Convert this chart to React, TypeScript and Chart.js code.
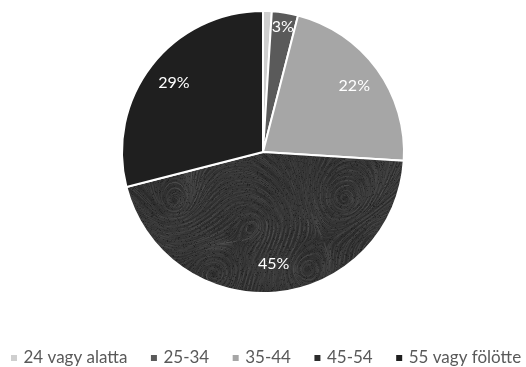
import React, { useEffect, useRef } from "react";
import { Chart, registerables } from "chart.js";

Chart.register(...registerables);

// Age groups and their share of respondents (%)
const ageGroups = ["24 vagy alatta", "25-34", "35-44", "45-54", "55 vagy fölötte"];
const shares = [1, 3, 22, 45, 29];
const sliceColors = ["#cfcfcf", "#5a5a5a", "#a6a6a6", "TEXTURE", "#1f1f1f"];
const labelledMin = 2; // slices below this share carry no percentage label

const FONT = 'Lato, "Open Sans", "DejaVu Sans", sans-serif';
const W = 526;
const H = 367;

// Dark swirled fill used for the 45-54 slice: streamlines traced through a few vortices
function makeSwirlPattern(ctx: CanvasRenderingContext2D): CanvasPattern | string {
  const c = document.createElement("canvas");
  c.width = W;
  c.height = H;
  const g = c.getContext("2d");
  if (!g) return "#303030";
  g.fillStyle = "#2c2c2c";
  g.fillRect(0, 0, W, H);

  const vortices = [
    [175, 205, 1],
    [255, 225, -1],
    [345, 200, 1],
    [215, 275, -1],
    [305, 270, 1],
    [140, 255, -1],
    [380, 250, -1],
  ];
  const field = (x: number, y: number) => {
    let vx = 0;
    let vy = 0;
    for (const [cx, cy, s] of vortices) {
      const dx = x - cx;
      const dy = y - cy;
      const d2 = dx * dx + dy * dy + 150;
      vx += (s * -dy) / d2;
      vy += (s * dx) / d2;
    }
    const m = Math.hypot(vx, vy) || 1;
    return [vx / m, vy / m];
  };

  g.lineWidth = 0.8;
  let n = 0;
  for (let sy = 140; sy < 300; sy += 3) {
    for (let sx = 110; sx < 420; sx += 3) {
      n++;
      const jx = ((n * 37) % 7) - 3;
      const jy = ((n * 53) % 7) - 3;
      let x = sx + jx * 0.5;
      let y = sy + jy * 0.5;
      const shade = 85 + ((n * 29) % 60);
      g.strokeStyle = `rgba(${shade},${shade},${shade},0.15)`;
      g.beginPath();
      g.moveTo(x, y);
      const len = 8 + ((n * 17) % 14);
      for (let k = 0; k < len; k++) {
        const [vx, vy] = field(x, y);
        x += vx * 1.2;
        y += vy * 1.2;
        g.lineTo(x, y);
      }
      g.stroke();
    }
  }
  for (let i = 0; i < 9000; i++) {
    const x = 110 + ((i * 73 + ((i * i) % 37)) % 310);
    const y = 140 + ((i * 151 + ((i * i * 3) % 97)) % 160);
    const shade = 15 + ((i * 31) % 50);
    g.fillStyle = `rgba(${shade},${shade},${shade},0.5)`;
    g.fillRect(x, y, 1, 1);
  }
  return ctx.createPattern(c, "no-repeat") || "#303030";
}

const sliceLabels = {
  id: "sliceLabels",
  afterDatasetsDraw(chart: any) {
    const { ctx } = chart;
    const meta = chart.getDatasetMeta(0);
    ctx.save();
    ctx.font = `16px ${FONT}`;
    ctx.fillStyle = "#ffffff";
    ctx.textAlign = "center";
    ctx.textBaseline = "middle";
    meta.data.forEach((arc: any, i: number) => {
      const v = shares[i];
      if (v < labelledMin) return;
      const { x, y, startAngle, endAngle, outerRadius } = arc.getProps(
        ["x", "y", "startAngle", "endAngle", "outerRadius"],
        true
      );
      const mid = (startAngle + endAngle) / 2;
      const r = outerRadius * (v < 5 ? 0.9 : 0.8);
      ctx.fillText(`${v}%`, x + r * Math.cos(mid), y + r * Math.sin(mid));
    });
    ctx.restore();
  },
};

const bottomLegend = {
  id: "bottomLegend",
  afterDraw(chart: any) {
    const { ctx } = chart;
    const colors = chart.data.datasets[0].backgroundColor;
    ctx.save();
    ctx.font = `17px ${FONT}`;
    ctx.textBaseline = "middle";
    ctx.textAlign = "left";
    const cy = 358;
    let x = 11;
    ageGroups.forEach((name, i) => {
      ctx.fillStyle = colors[i];
      ctx.fillRect(x, cy - 3, 6, 6);
      x += 12.5;
      ctx.fillStyle = "#595959";
      ctx.fillText(name, x, cy);
      x += ctx.measureText(name).width + 23.5;
    });
    ctx.restore();
  },
};

export default function App() {
  const canvasRef = useRef<HTMLCanvasElement | null>(null);

  useEffect(() => {
    const canvas = canvasRef.current;
    if (!canvas) return;
    const ctx = canvas.getContext("2d");
    if (!ctx) return;
    const swirl = makeSwirlPattern(ctx);
    const colors = sliceColors.map((c) => (c === "TEXTURE" ? swirl : c));

    const chart = new Chart(canvas, {
      type: "pie",
      data: {
        labels: ageGroups,
        datasets: [
          {
            data: shares,
            backgroundColor: colors as any,
            borderColor: "#ffffff",
            borderWidth: 2,
          },
        ],
      },
      options: {
        responsive: false,
        animation: false,
        layout: { padding: { top: 10, bottom: 73, left: 0, right: 0 } },
        plugins: {
          legend: { display: false },
          tooltip: { enabled: false },
        },
      },
      plugins: [sliceLabels, bottomLegend],
    });
    return () => chart.destroy();
  }, []);

  return (
    <div style={{ position: "fixed", left: 0, top: 0, width: W, height: H, background: "#ffffff" }}>
      <canvas ref={canvasRef} width={W} height={H} />
    </div>
  );
}
